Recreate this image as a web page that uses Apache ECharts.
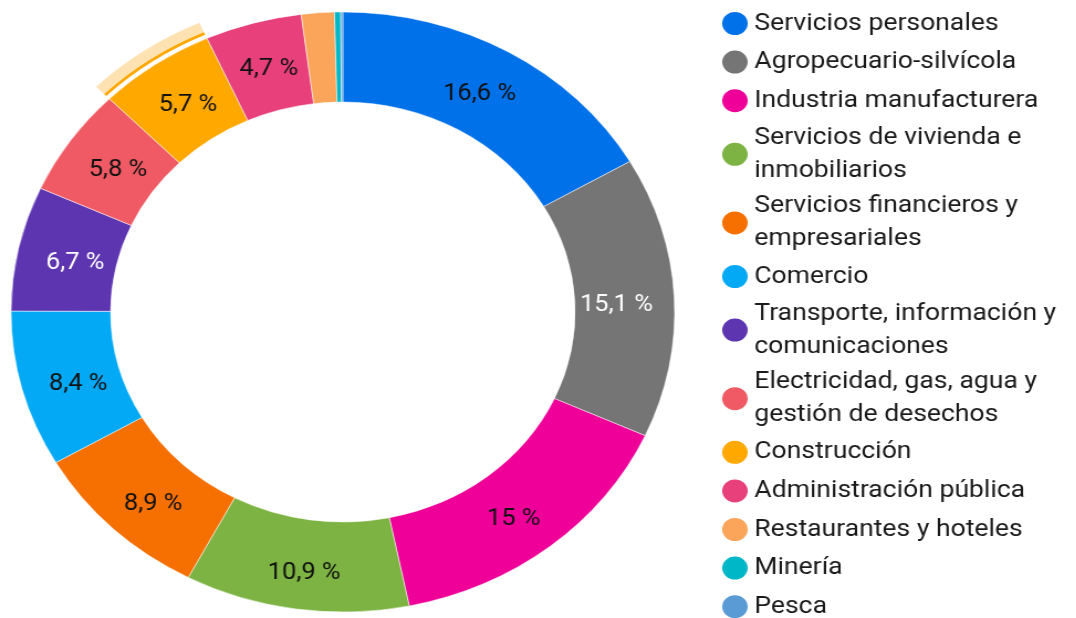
<!DOCTYPE html>
<html>
<head>
<meta charset="utf-8">
<script src="https://cdn.jsdelivr.net/npm/echarts@6/dist/echarts.min.js"></script>
<style>
  html, body { margin: 0; padding: 0; background: #fff; overflow: hidden; }
  /* the reference is stretched horizontally, so draw narrower and widen it;
     extra height keeps the last legend row in the first column */
  #chart {
    width: 973px;
    height: 660px;
    transform: scaleX(1.106);
    transform-origin: 0 0;
  }
</style>
</head>
<body>
<div id="chart"></div>
<script>
const categories = [
  'Servicios personales',
  'Agropecuario-silvícola',
  'Industria manufacturera',
  'Servicios de vivienda e inmobiliarios',
  'Servicios financieros y empresariales',
  'Comercio',
  'Transporte, información y comunicaciones',
  'Electricidad, gas, agua y gestión de desechos',
  'Construcción',
  'Administración pública',
  'Restaurantes y hoteles',
  'Minería',
  'Pesca'
]
const values = [16.6, 15.1, 15, 10.9, 8.9, 8.4, 6.7, 5.8, 5.7, 4.7, 1.6, 0.3, 0.1]
const colors = ['#0071E8', '#757575', '#EE0099', '#7CB342', '#F57000', '#03A9F4', '#5E35B1',
  '#EF5A64', '#FFA800', '#E8407B', '#FAA55A', '#00B7C8', '#5B9BD5']
// legend lines as they wrap in the picture
const legendLines = {
  'Servicios de vivienda e inmobiliarios': 'Servicios de vivienda e\ninmobiliarios',
  'Servicios financieros y empresariales': 'Servicios financieros y\nempresariales',
  'Transporte, información y comunicaciones': 'Transporte, información y\ncomunicaciones',
  'Electricidad, gas, agua y gestión de desechos': 'Electricidad, gas, agua y\ngestión de desechos'
}
const whiteLabels = ['Agropecuario-silvícola', 'Transporte, información y comunicaciones']
const noLabels = ['Restaurantes y hoteles', 'Minería', 'Pesca']
const highlighted = 'Construcción'

const chart = echarts.init(document.getElementById('chart'))

const fmt = v => String(v).replace('.', ',') + ' %'

function ringData(color) {
  return categories.map((name, i) => ({
    name,
    value: values[i],
    itemStyle: { color: name === highlighted ? color : 'rgba(0,0,0,0)' }
  }))
}

const center = [310, 312]

chart.setOption({
  animation: false,
  color: colors,
  legend: {
    orient: 'vertical',
    left: 651,
    top: 10,
    padding: 0,
    icon: 'circle',
    itemWidth: 25,
    itemHeight: 25,
    itemGap: 11.6,
    itemTextGap: 11,
    selectedMode: false,
    data: categories,
    formatter: name => legendLines[name] || name,
    textStyle: {
      fontFamily: 'Roboto',
      fontSize: 24,
      color: '#1a1a1a',
      lineHeight: 33,
      verticalAlign: 'top',
      padding: [-16.5, 0, 0, 0]
    }
  },
  series: [
    {
      type: 'pie',
      center,
      radius: [210, 300],
      startAngle: 90,
      silent: true,
      itemStyle: { borderColor: '#fff', borderWidth: 0.5 },
      label: {
        position: 'inside',
        fontFamily: 'Roboto',
        fontSize: 23,
        formatter: p => fmt(p.value)
      },
      labelLine: { show: false },
      // labels sit a little nearer the middle on the left and right sides
      labelLayout: p => {
        const r = p.labelRect
        const cx = r.x + r.width / 2
        const cy = r.y + r.height / 2
        return { x: center[0] + (cx - center[0]) * 0.96, y: cy + 6 }
      },
      data: categories.map((name, i) => ({
        name,
        value: values[i],
        label: {
          show: !noLabels.includes(name),
          color: whiteLabels.includes(name) ? '#fff' : '#111'
        }
      }))
    },
    {
      type: 'pie',
      center,
      radius: [304, 307],
      startAngle: 90,
      silent: true,
      label: { show: false },
      labelLine: { show: false },
      data: ringData('#FFA800')
    },
    {
      type: 'pie',
      center,
      radius: [307, 317],
      startAngle: 90,
      silent: true,
      label: { show: false },
      labelLine: { show: false },
      data: ringData('#FFE2B2')
    }
  ]
})
</script>
</body>
</html>
